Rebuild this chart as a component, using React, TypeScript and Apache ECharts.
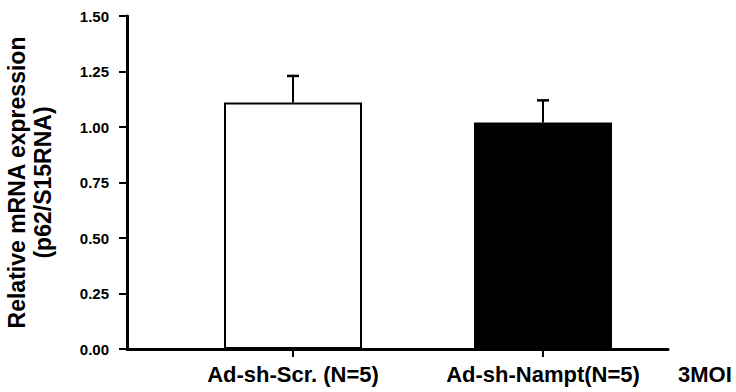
import React, { useEffect, useRef } from "react";
import * as echarts from "echarts";

const categories = ["Ad-sh-Scr. (N=5)", "Ad-sh-Nampt(N=5)"];
const means = [1.11, 1.02];
const errors = [0.12, 0.1];
const barColors = ["#ffffff", "#000000"];
const yAxisTitle = "Relative mRNA expression\n(p62/S15RNA)";
const extraLabel = "3MOI";

const FONT = "'Liberation Sans', Arial, Helvetica, sans-serif";

export default function App() {
  const ref = useRef<HTMLDivElement>(null);
  useEffect(() => {
    if (!ref.current) return;
    const chart = echarts.init(ref.current, null, { renderer: "svg" });
    const idx = categories.map((_, i) => i);
    chart.setOption({
      animation: false,
      backgroundColor: "#ffffff",
      grid: {
        left: 127,
        right: 68,
        top: 16,
        bottom: 43,
        containLabel: false,
        outerBoundsMode: "none",
      },
      xAxis: {
        type: "value",
        min: -0.664,
        max: 1.5,
        name: extraLabel,
        nameLocation: "end",
        nameGap: 10,
        nameTextStyle: {
          fontFamily: FONT,
          fontWeight: "bold",
          fontSize: 22,
          color: "#000",
          verticalAlign: "top",
          align: "left",
          padding: [14, 0, 0, 0],
        },
        axisLine: { show: true, onZero: false, lineStyle: { color: "#000", width: 3 } },
        axisTick: {
          show: true,
          inside: false,
          length: 8,
          customValues: idx,
          lineStyle: { color: "#000", width: 2 },
        },
        axisLabel: {
          show: true,
          customValues: idx,
          margin: 14,
          formatter: (v: number) => categories[Math.round(v)] ?? "",
          fontFamily: FONT,
          fontWeight: "bold",
          fontSize: 22,
          color: "#000",
        },
        splitLine: { show: false },
      },
      yAxis: {
        type: "value",
        min: 0,
        max: 1.5,
        interval: 0.25,
        name: yAxisTitle,
        nameLocation: "middle",
        nameRotate: 90,
        nameGap: 71,
        nameTextStyle: {
          fontFamily: FONT,
          fontWeight: "bold",
          fontSize: 23,
          lineHeight: 26,
          color: "#000",
        },
        axisLine: { show: true, onZero: false, lineStyle: { color: "#000", width: 3 } },
        axisTick: { show: true, inside: false, length: 8, lineStyle: { color: "#000", width: 2 } },
        axisLabel: {
          margin: 18,
          formatter: (v: number) => v.toFixed(2),
          fontFamily: FONT,
          fontWeight: "bold",
          fontSize: 15,
          color: "#000",
        },
        splitLine: { show: false },
      },
      series: [
        {
          type: "bar",
          barWidth: 138,
          data: idx.map((i) => ({
            value: [i, means[i]],
            itemStyle: { color: barColors[i], borderColor: "#000", borderWidth: 2 },
          })),
          z: 2,
        },
        {
          type: "custom",
          z: 3,
          data: idx.map((i) => [i, means[i], errors[i]]),
          encode: { x: 0, y: 1 },
          renderItem: (params: any, api: any) => {
            const x = api.value(0);
            const y = api.value(1);
            const e = api.value(2);
            const p0 = api.coord([x, y]);
            const p1 = api.coord([x, y + e]);
            return {
              type: "group",
              children: [
                {
                  type: "line",
                  shape: { x1: p0[0], y1: p0[1], x2: p1[0], y2: p1[1] },
                  style: { stroke: "#000", lineWidth: 2 },
                },
                {
                  type: "line",
                  shape: { x1: p1[0] - 6, y1: p1[1], x2: p1[0] + 6, y2: p1[1] },
                  style: { stroke: "#000", lineWidth: 2.5 },
                },
              ],
            };
          },
        },
      ],
    });
    return () => chart.dispose();
  }, []);
  return (
    <div
      ref={ref}
      style={{ position: "fixed", left: 0, top: 0, width: 736, height: 392, background: "#fff" }}
    />
  );
}
